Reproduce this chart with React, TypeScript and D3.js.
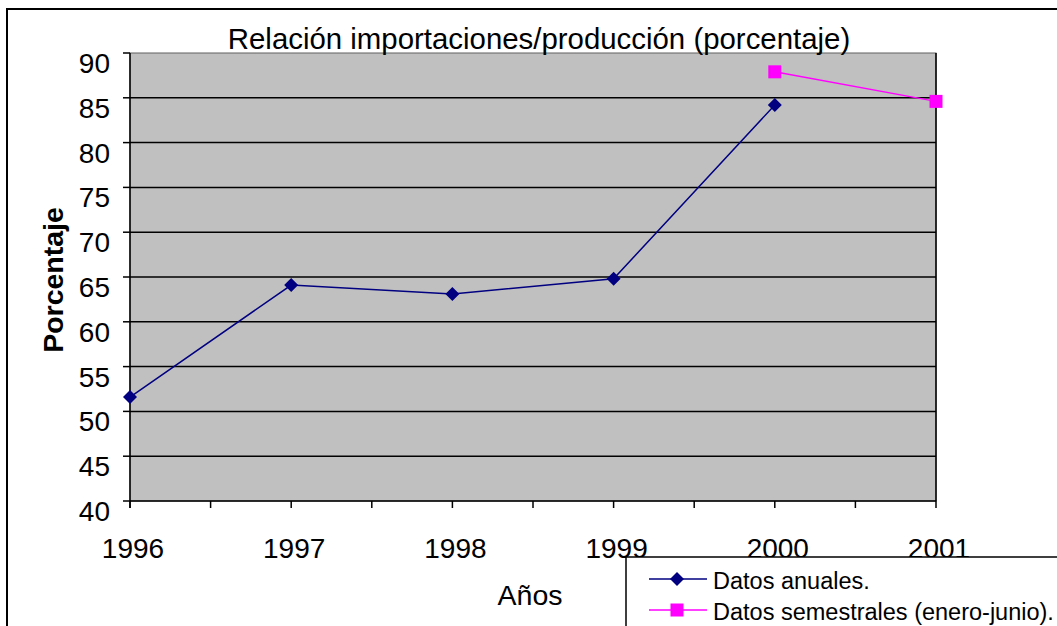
import React from "react";
import * as d3 from "d3";

const years = [1996, 1997, 1998, 1999, 2000, 2001];
const anuales = [51.6, 64.1, 63.1, 64.8, 84.2];
const anualesYears = [1996, 1997, 1998, 1999, 2000];
const semestrales = [87.9, 84.6];
const semestralesYears = [2000, 2001];
const yTicks = [40, 45, 50, 55, 60, 65, 70, 75, 80, 85, 90];
const title = "Relación importaciones/producción (porcentaje)";
const legendLabels = ["Datos anuales.", "Datos semestrales (enero-junio)."];

export default function App() {
  const W = 1057, H = 626;
  const left = 130, right = 936, top = 53, bottom = 501;
  const x = d3.scaleLinear().domain([1996, 2001]).range([left, right]);
  const y = d3.scaleLinear().domain([40, 90]).range([bottom, top]);
  const line = d3.line<[number, number]>().x(d => x(d[0])).y(d => y(d[1]));
  const halfTicks = d3.range(1996, 2001.01, 0.5);
  const font = "'Liberation Sans', Arial, sans-serif";
  const anualPts: [number, number][] = anualesYears.map((yr, i) => [yr, anuales[i]]);
  const semPts: [number, number][] = semestralesYears.map((yr, i) => [yr, semestrales[i]]);
  const diamond = (cx: number, cy: number, r = 7) => `M${cx},${cy - r}L${cx + r},${cy}L${cx},${cy + r}L${cx - r},${cy}Z`;
  return (
    <svg width={W} height={H} style={{ position: "absolute", left: 0, top: 0 }} fontFamily={font}>
      <rect x={0} y={0} width={W} height={H} fill="#fff" />
      <rect x={7} y={9} width={W + 10} height={H + 10} fill="#fff" stroke="#000" strokeWidth={2} />
      <rect x={left} y={top} width={right - left} height={bottom - top} fill="#c0c0c0" stroke="#606060" strokeWidth={1} />
      {yTicks.map(t => (
        <g key={t}>
          {t !== 40 && t !== 90 && <line x1={left} x2={right} y1={y(t)} y2={y(t)} stroke="#000" strokeWidth={1.5} />}
          <line x1={left - 7} x2={left} y1={y(t)} y2={y(t)} stroke="#000" strokeWidth={1.5} />
          <text x={left - 20} y={y(t) + 20} textAnchor="end" fontSize={28}>{t}</text>
        </g>
      ))}
      <line x1={right} x2={right} y1={top} y2={bottom} stroke="#000" strokeWidth={1.5} />
      <line x1={left} x2={left} y1={top} y2={bottom + 7} stroke="#000" strokeWidth={1.5} />
      <line x1={left} x2={right} y1={bottom} y2={bottom} stroke="#000" strokeWidth={1.5} />
      {halfTicks.map(t => (
        <line key={t} x1={x(t)} x2={x(t)} y1={bottom} y2={bottom + 7} stroke="#000" strokeWidth={1.5} />
      ))}
      {years.map(yr => (
        <text key={yr} x={x(yr) + 3} y={558} textAnchor="middle" fontSize={28}>{yr}</text>
      ))}
      <text x={539} y={49} textAnchor="middle" fontSize={29.4}>{title}</text>
      <text x={530} y={605} textAnchor="middle" fontSize={28.5}>Años</text>
      <text transform="translate(63,280) rotate(-90)" textAnchor="middle" fontSize={28.5} fontWeight="bold">Porcentaje</text>
      <path d={line(anualPts) || ""} fill="none" stroke="#000080" strokeWidth={1.5} />
      {anualPts.map((p, i) => (
        <path key={i} d={diamond(x(p[0]), y(p[1]))} fill="#000080" />
      ))}
      <path d={line(semPts) || ""} fill="none" stroke="#ff00ff" strokeWidth={1.5} />
      {semPts.map((p, i) => (
        <rect key={i} x={x(p[0]) - 6.5} y={y(p[1]) - 6.5} width={13} height={13} fill="#ff00ff" />
      ))}
      <rect x={626} y={557} width={500} height={100} fill="#fff" stroke="#000" strokeWidth={1.5} />
      <line x1={649} x2={707} y1={579} y2={579} stroke="#000080" strokeWidth={1.5} />
      <path d={diamond(677, 579, 7)} fill="#000080" />
      <text x={713} y={589} fontSize={23.5}>{legendLabels[0]}</text>
      <line x1={649} x2={707} y1={610} y2={610} stroke="#ff00ff" strokeWidth={1.5} />
      <rect x={670.5} y={603.5} width={13} height={13} fill="#ff00ff" />
      <text x={713} y={620} fontSize={23.5}>{legendLabels[1]}</text>
    </svg>
  );
}
